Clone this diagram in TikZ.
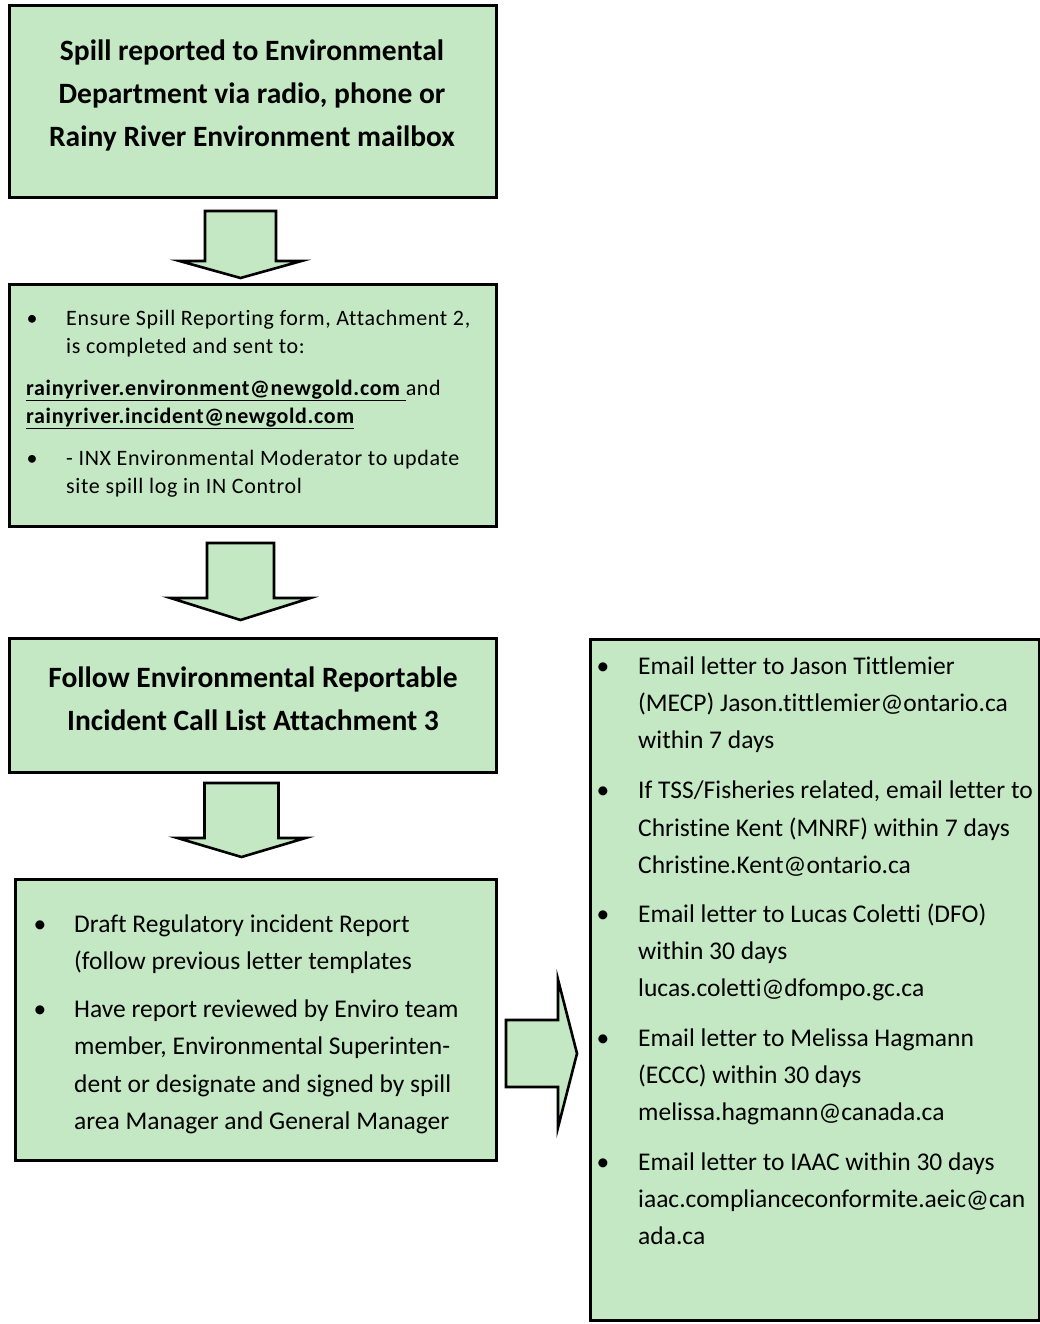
\documentclass[tikz,border=0pt]{standalone}
\usepackage{fontspec}
\setmainfont{Carlito}[Ligatures={NoCommon}]
\usetikzlibrary{calc}
\definecolor{boxgreen}{RGB}{195,232,195}
% down block arrow: #1 shaft-top coord, #2 tip coord, #3 shaft half width, #4 head half width, #5 head length
\newcommand\dnblock[5]{%
  \draw[blk] let \p1=(#1), \p2=(#2) in
    (\x1-#3pt,\y1) -- (\x1+#3pt,\y1) -- (\x1+#3pt,\y2+#5pt) -- (\x1+#4pt,\y2+#5pt)
    -- (\x2,\y2) -- (\x1-#4pt,\y2+#5pt) -- (\x1-#3pt,\y2+#5pt) -- cycle;}
% right block arrow
\newcommand\rtblock[5]{%
  \draw[blk] let \p1=(#1), \p2=(#2) in
    (\x1,\y1+#3pt) -- (\x2-#5pt,\y1+#3pt) -- (\x2-#5pt,\y1+#4pt) -- (\x2,\y2)
    -- (\x2-#5pt,\y1-#4pt) -- (\x2-#5pt,\y1-#3pt) -- (\x1,\y1-#3pt) -- cycle;}
\begin{document}
\begin{tikzpicture}[x=1pt,y=-1pt,
  box/.style={draw=black, line width=3pt, fill=boxgreen, rectangle, inner sep=0pt, outer sep=0pt, anchor=north west},
  blk/.style={draw=black, line width=2.6pt, fill=boxgreen, line join=miter},
  hd/.style={inner sep=0pt, anchor=base, font=\fontsize{29.5}{43}\selectfont\bfseries},
  sm/.style={inner sep=0pt, anchor=base west, font=\fontsize{22}{28}\selectfont\addfontfeature{LetterSpace=3}},
  smb/.style={inner sep=0pt, anchor=base, font=\fontsize{22}{28}\selectfont},
  md/.style={inner sep=0pt, anchor=base west, font=\fontsize{25.5}{37}\selectfont},
  mdb/.style={inner sep=0pt, anchor=base, font=\fontsize{25.5}{37}\selectfont}]
\fill[white] (0,0) rectangle (1040,1324);
\useasboundingbox (0,0) rectangle (1040,1324);

% boxes
\node[box, minimum width=487pt, minimum height=192pt] (b1) at (9,6) {};
\node[box, minimum width=487pt, minimum height=242pt] (b2) at (9,284) {};
\node[box, minimum width=487pt, minimum height=134pt] (b3) at (9,638) {};
\node[box, minimum width=481pt, minimum height=281pt] (b4) at (15,879) {};
\node[box, minimum width=449pt, minimum height=681pt] (b5) at (590,639) {};

% box 1
\node[hd] (t1a) at (252,61) {Spill reported to Environmental};
\node[hd] (t1b) at (252,104) {Department via radio, phone or};
\node[hd] (t1c) at (252,147) {Rainy River Environment mailbox};

% box 2
\node[smb] (u2a) at (32,325) {•};
\node[sm] (t2a) at (66,325) {Ensure Spill Reporting form, Attachment 2,};
\node[sm] (t2b) at (66,353) {is completed and sent to:};
\node[sm] (t2c) at (26,395) {{\bfseries\underline{rainyriver.environment@newgold.com\ }}and};
\node[sm] (t2d) at (26,423) {\bfseries\underline{rainyriver.incident@newgold.com}};
\node[smb] (u2b) at (32,465) {•};
\node[sm] (t2e) at (66,465) {- INX Environmental Moderator to update};
\node[sm] (t2f) at (66,493) {site spill log in IN Control};

% box 3
\node[hd] (t3a) at (253,687) {Follow Environmental Reportable};
\node[hd] (t3b) at (253,730) {Incident Call List Attachment 3};

% box 4
\node[mdb] (u4a) at (40,932) {•};
\node[md] (t4a) at (74,932) {Draft Regulatory incident Report};
\node[md] (t4b) at (74,969) {(follow previous letter templates};
\node[mdb] (u4b) at (40,1017) {•};
\node[md] (t4c) at (74,1017) {Have report reviewed by Enviro team};
\node[md] (t4d) at (74,1054) {member, Environmental Superinten-};
\node[md] (t4e) at (74,1092) {dent or designate and signed by spill};
\node[md] (t4f) at (74,1129) {area Manager and General Manager};

% box 5
\node[mdb] (u5a) at (603,674) {•};
\node[md] (t5a) at (638,674) {Email letter to Jason Tittlemier};
\node[md] (t5b) at (638,711) {(MECP) Jason.tittlemier@ontario.ca};
\node[md] (t5c) at (638,748) {within 7 days};
\node[mdb] (u5b) at (603,798) {•};
\node[md] (t5d) at (638,798) {If TSS/Fisheries related, email letter to};
\node[md] (t5e) at (638,836) {Christine Kent (MNRF) within 7 days};
\node[md] (t5f) at (638,873) {Christine.Kent@ontario.ca};
\node[mdb] (u5c) at (603,922) {•};
\node[md] (t5g) at (638,922) {Email letter to Lucas Coletti (DFO)};
\node[md] (t5h) at (638,959) {within 30 days};
\node[md] (t5i) at (638,996) {lucas.coletti@dfompo.gc.ca};
\node[mdb] (u5d) at (603,1046) {•};
\node[md] (t5j) at (638,1046) {Email letter to Melissa Hagmann};
\node[md] (t5k) at (638,1083) {(ECCC) within 30 days};
\node[md] (t5l) at (638,1120) {melissa.hagmann@canada.ca};
\node[mdb] (u5e) at (603,1170) {•};
\node[md] (t5m) at (638,1170) {Email letter to IAAC within 30 days};
\node[md] (t5n) at (638,1207) {iaac.complianceconformite.aeic@can};
\node[md] (t5o) at (638,1244) {ada.ca};

% block arrows between boxes
\coordinate (a1s) at ($(b1.south)+(-12,13)$);
\coordinate (a1t) at ($(b2.north)+(-12,-6)$);
\dnblock{a1s}{a1t}{35.5}{61}{17}
\coordinate (a2s) at ($(b2.south)+(-12,17)$);
\coordinate (a2t) at ($(b3.north)+(-12,-18)$);
\dnblock{a2s}{a2t}{33.5}{70}{22}
\coordinate (a3s) at ($(b3.south)+(-11,11)$);
\coordinate (a3t) at ($(b4.north)+(-14,-22)$);
\dnblock{a3s}{a3t}{37}{64}{19}
\coordinate (a4s) at ($(b4.east)+(10,34)$);
\coordinate (a4t) at ($(b5.west)+(-13,74)$);
\rtblock{a4s}{a4t}{33.5}{74}{19}
\end{tikzpicture}
\end{document}
